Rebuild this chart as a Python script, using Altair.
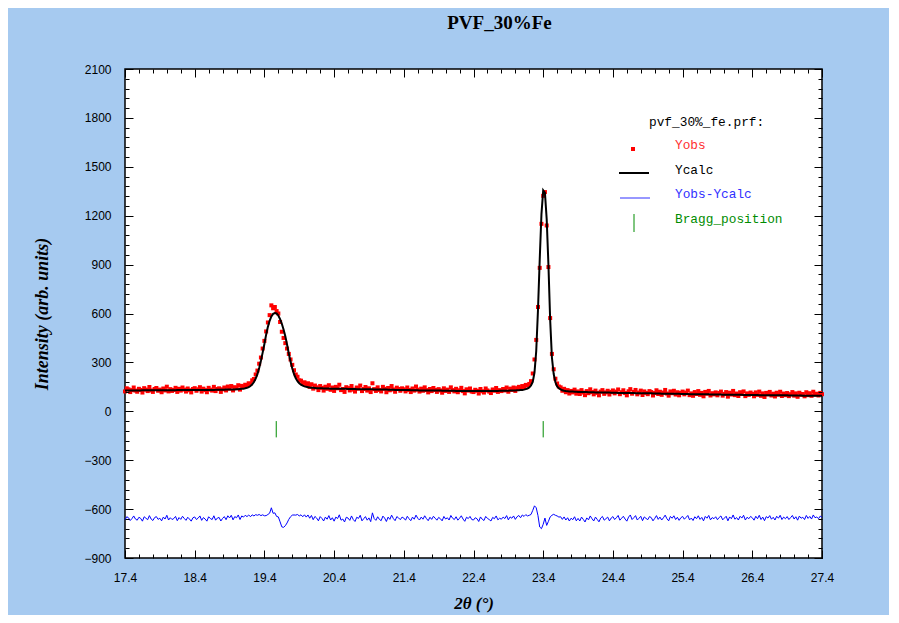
import altair as alt
import pandas as pd

TITLE = "PVF_30%Fe"
LEGEND_TITLE = "pvf_30%_fe.prf:"
LEGEND_LABELS = ["Yobs", "Ycalc", "Yobs-Ycalc", "Bragg_position"]
LEGEND_COLORS = ["#FF3030", "#000000", "#3030FF", "#008C00"]

# 2theta grid: 17.4 .. 27.4, step 0.025 (401 points)
X_START, X_STEP, N_PTS = 17.4, 0.025, 401
X_TICKS = [17.4, 18.4, 19.4, 20.4, 21.4, 22.4, 23.4, 24.4, 25.4, 26.4, 27.4]
Y_TICKS = [-900, -600, -300, 0, 300, 600, 900, 1200, 1500, 1800, 2100]
BRAGG_POS = [19.57, 23.40]
DIFF_OFFSET = -660

ycalc_rows = [
    [128, 128, 128, 128, 128, 128, 128, 128, 128, 128, 129, 129, 129, 129, 129, 129, 129, 129, 129, 129],
    [129, 129, 129, 129, 129, 129, 129, 129, 129, 129, 130, 130, 130, 130, 130, 130, 130, 130, 130, 130],
    [130, 130, 130, 130, 130, 131, 131, 131, 131, 131, 131, 131, 132, 132, 132, 132, 132, 132, 133, 133],
    [133, 133, 134, 134, 135, 136, 137, 138, 139, 141, 144, 148, 155, 165, 180, 200, 228, 265, 310, 360],
    [413, 470, 518, 555, 582, 598, 603, 600, 588, 566, 537, 502, 460, 410, 355, 305, 262, 228, 203, 185],
    [172, 163, 157, 153, 150, 148, 146, 145, 144, 143, 142, 142, 141, 141, 140, 140, 140, 140, 139, 139],
    [139, 139, 139, 138, 138, 138, 138, 138, 137, 137, 137, 137, 137, 136, 136, 136, 136, 136, 135, 135],
    [135, 135, 135, 134, 134, 134, 134, 133, 133, 133, 133, 132, 132, 132, 132, 131, 131, 131, 131, 130],
    [130, 130, 130, 130, 129, 129, 129, 129, 129, 128, 128, 128, 128, 128, 127, 127, 127, 127, 127, 127],
    [127, 127, 126, 126, 126, 126, 126, 126, 126, 126, 125, 125, 125, 125, 125, 125, 125, 125, 125, 125],
    [125, 125, 125, 125, 125, 125, 125, 125, 125, 125, 125, 125, 125, 125, 125, 126, 126, 126, 126, 126],
    [126, 127, 127, 128, 128, 129, 129, 130, 131, 133, 136, 140, 146, 158, 180, 238, 370, 620, 930, 1210],
    [1355, 1340, 1180, 900, 560, 330, 230, 178, 153, 141, 134, 129, 126, 124, 123, 122, 121, 121, 120, 120],
    [119, 119, 119, 118, 118, 118, 117, 117, 117, 117, 116, 116, 116, 116, 115, 115, 115, 115, 115, 114],
    [114, 114, 114, 113, 113, 113, 113, 113, 112, 112, 112, 112, 112, 111, 111, 111, 111, 111, 110, 110],
    [110, 110, 110, 109, 109, 109, 109, 109, 108, 108, 108, 108, 108, 107, 107, 107, 107, 107, 107, 106],
    [106, 106, 106, 106, 105, 105, 105, 105, 105, 105, 104, 104, 104, 104, 104, 104, 103, 103, 103, 103],
    [103, 103, 103, 102, 102, 102, 102, 102, 102, 101, 101, 101, 101, 101, 101, 100, 100, 100, 100, 100],
    [100, 100, 100, 100, 99, 99, 99, 99, 99, 99, 99, 99, 98, 98, 98, 98, 98, 98, 98, 98],
    [98, 97, 97, 97, 97, 97, 97, 97, 97, 96, 96, 96, 96, 96, 96, 96, 96, 96, 96, 96],
    [96],
]

yobs_rows = [
    [122, 141, 135, 118, 130, 146, 127, 120, 138, 131, 115, 142, 133, 124, 149, 128, 119, 137, 143, 126],
    [133, 117, 140, 128, 151, 122, 136, 125, 131, 144, 119, 138, 127, 146, 133, 121, 140, 129, 116, 137],
    [142, 126, 135, 148, 121, 139, 130, 117, 144, 133, 127, 150, 124, 137, 141, 119, 135, 146, 128, 152],
    [139, 155, 128, 148, 142, 160, 133, 156, 150, 163, 158, 172, 168, 190, 198, 226, 250, 292, 330, 385],
    [432, 490, 545, 590, 650, 632, 640, 615, 600, 548, 488, 450, 418, 385, 352, 318, 285, 252, 226, 212],
    [190, 188, 170, 178, 161, 172, 150, 166, 139, 158, 147, 130, 155, 144, 127, 151, 138, 160, 132, 146],
    [125, 150, 141, 163, 130, 137, 119, 148, 142, 128, 155, 133, 121, 146, 139, 158, 124, 137, 149, 127],
    [141, 118, 172, 136, 125, 147, 131, 122, 150, 138, 117, 143, 129, 155, 134, 120, 145, 137, 126, 141],
    [135, 122, 146, 131, 118, 140, 127, 152, 133, 121, 139, 126, 147, 130, 116, 137, 124, 143, 131, 119],
    [136, 128, 114, 141, 125, 133, 119, 147, 130, 122, 138, 117, 129, 144, 124, 110, 135, 127, 140, 121],
    [118, 132, 126, 109, 137, 123, 115, 140, 128, 121, 112, 134, 126, 143, 119, 130, 124, 137, 128, 146],
    [120, 139, 131, 146, 125, 142, 150, 137, 155, 148, 162, 158, 168, 185, 232, 318, 438, 640, 880, 1150],
    [1322, 1345, 1140, 885, 572, 352, 258, 200, 171, 152, 147, 126, 138, 117, 130, 109, 125, 116, 133, 108],
    [122, 106, 130, 115, 99, 124, 111, 135, 118, 104, 127, 113, 98, 121, 130, 107, 116, 126, 103, 119],
    [128, 110, 121, 134, 105, 117, 129, 112, 98, 123, 136, 108, 119, 131, 104, 115, 127, 100, 122, 113],
    [105, 124, 118, 97, 112, 129, 106, 120, 101, 115, 131, 109, 96, 122, 111, 126, 103, 117, 98, 113],
    [121, 104, 115, 127, 99, 110, 95, 118, 106, 124, 101, 113, 92, 119, 108, 125, 97, 111, 104, 116],
    [98, 112, 121, 96, 107, 118, 90, 114, 103, 125, 99, 109, 94, 117, 106, 122, 93, 110, 101, 115],
    [107, 92, 116, 101, 121, 95, 110, 88, 113, 104, 119, 97, 108, 91, 114, 102, 120, 94, 109, 99],
    [112, 93, 105, 118, 96, 110, 89, 114, 101, 106, 92, 117, 99, 111, 95, 120, 103, 108, 97, 113],
    [105],
]

two_theta = [round(X_START + X_STEP * i, 3) for i in range(N_PTS)]
ycalc = [v for row in ycalc_rows for v in row]
yobs = [v for row in yobs_rows for v in row]

df = pd.DataFrame({"tt": two_theta, "yobs": yobs, "ycalc": ycalc})
df["diff"] = df["yobs"] - df["ycalc"] + DIFF_OFFSET
bragg_df = pd.DataFrame({"pos": BRAGG_POS})

x_minor = [round(17.4 + 0.2 * i, 1) for i in range(51)]
y_minor = list(range(-900, 2101, 60))

xs = alt.Scale(domain=[17.4, 27.4], nice=False, zero=False)
ys = alt.Scale(domain=[-900, 2100], nice=False, zero=False)

LABEL_FONT = "Liberation Sans"
MAJ, MIN = 8, 4


def axis(orient, values, size, labels=False, **kw):
    return alt.Axis(
        orient=orient, values=values, tickSize=size, offset=-size,
        domain=False, grid=False, labels=labels, ticks=True,
        tickColor="black", tickWidth=1, zindex=2, **kw
    )


x_bottom = axis(
    "bottom", X_TICKS, MAJ, labels=True, format=".1f",
    labelFont=LABEL_FONT, labelFontSize=12, labelColor="black",
    labelPadding=14, labelFlush=False, labelOverlap=False,
    title="2θ (°)", titleFont="Liberation Serif", titleFontSize=17,
    titleFontWeight="bold", titleFontStyle="italic", titleColor="black",
    titlePadding=12,
)
y_left = axis(
    "left", Y_TICKS, MAJ, labels=True, format="d",
    labelFont=LABEL_FONT, labelFontSize=12, labelColor="black",
    labelPadding=14, labelOverlap=False,
    title="Intensity (arb. units)", titleFont="Liberation Serif",
    titleFontSize=18, titleFontWeight="bold", titleFontStyle="italic",
    titleColor="black", titlePadding=32,
)

base = alt.Chart(df)


def carrier(xa, ya):
    return base.mark_point(opacity=0, size=1).encode(
        x=alt.X("tt:Q", scale=xs, axis=xa),
        y=alt.Y("yobs:Q", scale=ys, axis=ya),
    )


carriers = [
    carrier(x_bottom, y_left),
    carrier(axis("bottom", x_minor, MIN, title=None), axis("left", y_minor, MIN, title=None)),
    carrier(axis("top", X_TICKS, MAJ, title=None), axis("right", Y_TICKS, MAJ, title=None)),
    carrier(axis("top", x_minor, MIN, title=None), axis("right", y_minor, MIN, title=None)),
]

obs = base.mark_square(size=16, color="#FF0000", opacity=1).encode(
    x=alt.X("tt:Q", scale=xs, axis=None),
    y=alt.Y("yobs:Q", scale=ys, axis=None),
)
calc = base.mark_line(color="black", strokeWidth=2).encode(
    x=alt.X("tt:Q", scale=xs, axis=None),
    y=alt.Y("ycalc:Q", scale=ys, axis=None),
)
diff = base.mark_line(color="#0000FF", strokeWidth=1).encode(
    x=alt.X("tt:Q", scale=xs, axis=None),
    y=alt.Y("diff:Q", scale=ys, axis=None),
)
bragg = alt.Chart(bragg_df).mark_rule(color="#008C00", strokeWidth=1).encode(
    x=alt.X("pos:Q", scale=xs, axis=None),
    y=alt.YDatum(-60, scale=ys, axis=None),
    y2=alt.Y2Datum(-160),
)

# Legend (inside the plot, top right)
LEG_FONT = "Liberation Mono"
LEG_SIZE = 12.8
leg_title = alt.Chart(pd.DataFrame({"t": [LEGEND_TITLE]})).mark_text(
    align="left", baseline="middle", font=LEG_FONT, fontSize=LEG_SIZE, color="black"
).encode(text="t:N", x=alt.value(524), y=alt.value(53))

leg_rows_y = [76, 101, 125, 150]
leg_texts = [
    alt.Chart(pd.DataFrame({"t": [lab]})).mark_text(
        align="left", baseline="middle", font=LEG_FONT, fontSize=LEG_SIZE, color=col
    ).encode(text="t:N", x=alt.value(550), y=alt.value(yy))
    for lab, col, yy in zip(LEGEND_LABELS, LEGEND_COLORS, leg_rows_y)
]
one = pd.DataFrame({"k": [0]})
leg_sym_obs = alt.Chart(one).mark_square(size=16, color="#FF0000", opacity=1).encode(
    x=alt.value(508), y=alt.value(80)
)
leg_sym_calc = alt.Chart(one).mark_rule(color="black", strokeWidth=2).encode(
    x=alt.value(494), x2=alt.value(524), y=alt.value(104)
)
leg_sym_diff = alt.Chart(one).mark_rule(color="#3030FF", strokeWidth=1).encode(
    x=alt.value(495), x2=alt.value(525), y=alt.value(129)
)
leg_sym_bragg = alt.Chart(one).mark_rule(color="#008C00", strokeWidth=1).encode(
    x=alt.value(509), y=alt.value(145), y2=alt.value(163)
)

chart = alt.layer(
    *carriers, obs, calc, diff, bragg,
    leg_title, *leg_texts, leg_sym_obs, leg_sym_calc, leg_sym_diff, leg_sym_bragg,
).resolve_axis(
    x="independent", y="independent"
).properties(
    width=697,
    height=489,
    autosize=alt.AutoSizeParams(type="none"),
    padding={"left": 117, "top": 61, "right": 67, "bottom": 57},
    background="#A6CAF0",
    title=alt.TitleParams(
        TITLE, font="Liberation Serif", fontSize=19, fontWeight="bold",
        color="black", anchor="middle", dx=26, offset=30,
    ),
).configure_view(
    fill="white", stroke="black", strokeWidth=1.5
)

chart.save("out.html", embed_options={"renderer": "svg", "actions": False})
